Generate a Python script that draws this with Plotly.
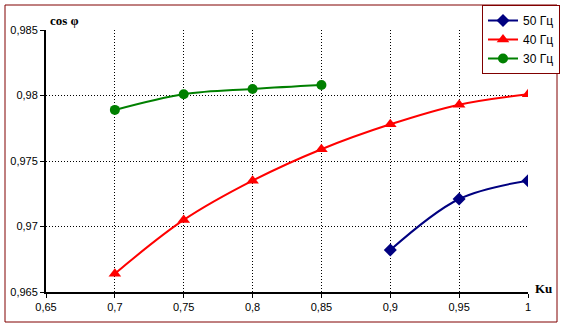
import plotly.graph_objects as go

ku_50 = [0.9, 0.95, 1.0]
cos_50 = [0.9682, 0.9721, 0.9735]
ku_40 = [0.7, 0.75, 0.8, 0.85, 0.9, 0.95, 1.0]
cos_40 = [0.9664, 0.9705, 0.9735, 0.9759, 0.9778, 0.9793, 0.9801]
ku_30 = [0.7, 0.75, 0.8, 0.85]
cos_30 = [0.9789, 0.9801, 0.9805, 0.9808]

x_ticks = [0.65, 0.7, 0.75, 0.8, 0.85, 0.9, 0.95, 1.0]
x_labels = ["0,65", "0,7", "0,75", "0,8", "0,85", "0,9", "0,95", "1"]
y_ticks = [0.965, 0.97, 0.975, 0.98, 0.985]
y_labels = ["0,965", "0,97", "0,975", "0,98", "0,985"]

fig = go.Figure()
fig.add_trace(go.Scatter(x=ku_50, y=cos_50, name="50 Гц", mode="lines+markers",
                         line=dict(color="#000080", width=2, shape="spline"),
                         marker=dict(symbol="diamond", size=10, color="#000080")))
fig.add_trace(go.Scatter(x=ku_40, y=cos_40, name="40 Гц", mode="lines+markers",
                         line=dict(color="#FF0000", width=2, shape="spline"),
                         marker=dict(symbol="triangle-up", size=11, color="#FF0000")))
fig.add_trace(go.Scatter(x=ku_30, y=cos_30, name="30 Гц", mode="lines+markers",
                         line=dict(color="#008000", width=2, shape="spline"),
                         marker=dict(symbol="circle", size=10, color="#008000")))

L, R, T, B = 46, 37, 30, 37
W, H = 565, 329
pw, ph = W - L - R, H - T - B

def px(xp):
    return (xp - L) / pw

def py(yp):
    return (H - B - yp) / ph

grid = dict(showgrid=True, gridcolor="black", griddash="1px,2px", gridwidth=1,
            showline=True, linecolor="black", linewidth=2,
            ticks="outside", ticklen=4, tickcolor="black", zeroline=False)

fig.update_layout(
    width=W, height=H,
    margin=dict(l=L, r=R, t=T, b=B, autoexpand=False),
    paper_bgcolor="white", plot_bgcolor="white",
    font=dict(family="Liberation Sans, Arial", size=11, color="black"),
    separators=", ",
    showlegend=True,
    legend=dict(x=px(482), y=py(5),
                xanchor="left", yanchor="top",
                bordercolor="#800000", borderwidth=1, bgcolor="white",
                font=dict(size=12), tracegroupgap=0, itemwidth=30),
    xaxis=dict(range=[0.65, 1.0], tickvals=x_ticks, ticktext=x_labels, **grid),
    yaxis=dict(range=[0.965, 0.985], tickvals=y_ticks, ticktext=y_labels, **grid),
    shapes=[dict(type="rect", xref="paper", yref="paper",
                 x0=px(5), x1=px(557), y0=py(322), y1=py(5),
                 line=dict(color="#800000", width=1), layer="below")],
    annotations=[
        dict(text="<b>cos φ</b>", xref="paper", yref="paper", x=px(48), y=py(20),
             xanchor="left", yanchor="middle", showarrow=False,
             font=dict(family="Liberation Serif, Times New Roman", size=13)),
        dict(text="<b>Ku</b>", xref="paper", yref="paper", x=px(533), y=py(288),
             xanchor="left", yanchor="middle", showarrow=False,
             font=dict(family="Liberation Serif, Times New Roman", size=13)),
    ],
)

fig.write_html("out.html", config={"displayModeBar": False},
               post_script="document.body.style.margin='0';document.body.style.overflow='hidden';")
